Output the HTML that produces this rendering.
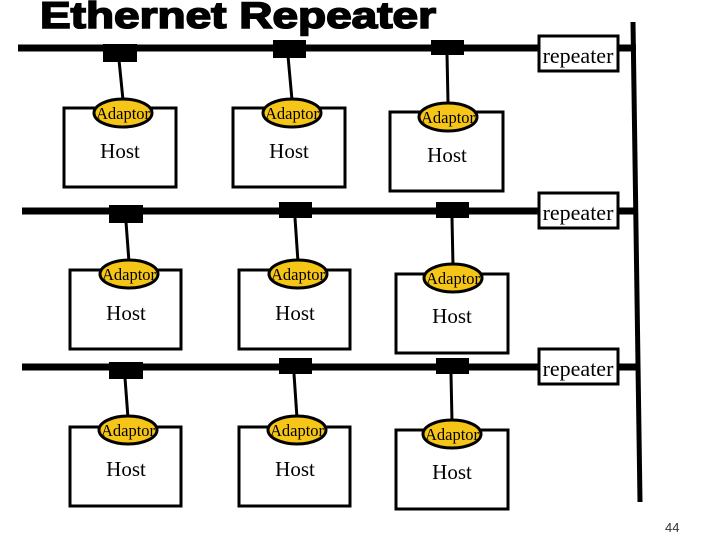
<!DOCTYPE html>
<html><head><meta charset="utf-8"><style>
html,body{margin:0;padding:0;background:#fff;width:720px;height:540px;overflow:hidden}
svg{display:block}
.t{font-family:"Liberation Serif",serif}
</style></head><body>
<svg width="720" height="540" viewBox="0 0 720 540">
<text x="40" y="28" font-family="Liberation Sans, sans-serif" font-weight="bold" font-size="37" fill="#000" stroke="#000" stroke-width="1.6" textLength="396" lengthAdjust="spacingAndGlyphs">Ethernet Repeater</text>
<line x1="633" y1="22" x2="640" y2="502" stroke="#000" stroke-width="5"/>
<g stroke="#000" stroke-width="7"><line x1="18" y1="48" x2="636" y2="48"/><line x1="22" y1="211" x2="637" y2="211"/><line x1="22" y1="367" x2="638" y2="367"/></g>
<g fill="#fff" stroke="#000" stroke-width="3">
<rect x="539" y="36" width="79" height="35"/><rect x="539" y="193" width="79" height="35"/><rect x="539" y="349" width="79" height="35"/>
<rect x="64" y="108" width="112" height="79"/><rect x="233" y="108" width="112" height="79"/><rect x="390" y="112" width="113" height="79"/>
<rect x="70" y="270" width="111" height="79"/><rect x="239" y="270" width="111" height="79"/><rect x="396" y="274" width="112" height="79"/>
<rect x="70" y="427" width="111" height="79"/><rect x="239" y="427" width="111" height="79"/><rect x="396" y="430" width="112" height="79"/>
</g>
<g class="t" font-size="22" text-anchor="middle" fill="#000">
<text x="578" y="63">repeater</text><text x="578" y="220">repeater</text><text x="578" y="376">repeater</text>
</g>
<g class="t" font-size="21" text-anchor="middle" fill="#000">
<text x="120" y="158">Host</text><text x="289" y="158">Host</text><text x="447" y="162">Host</text>
<text x="126" y="320">Host</text><text x="295" y="320">Host</text><text x="452" y="323">Host</text>
<text x="126" y="476">Host</text><text x="295" y="476">Host</text><text x="452" y="479">Host</text>
</g>
<g fill="#000">
<rect x="103" y="44" width="34" height="18"/><rect x="273" y="40" width="33" height="18"/><rect x="431" y="40" width="33" height="15"/>
<rect x="109" y="205" width="34" height="18"/><rect x="279" y="202" width="33" height="16"/><rect x="436" y="202" width="33" height="16"/>
<rect x="109" y="362" width="34" height="17"/><rect x="279" y="358" width="33" height="16"/><rect x="436" y="358" width="33" height="16"/>
</g>
<g stroke="#000" stroke-width="3">
<line x1="119" y1="60" x2="123" y2="100"/><line x1="288" y1="56" x2="292" y2="100"/><line x1="447" y1="54" x2="448" y2="102"/>
<line x1="126" y1="222" x2="129" y2="262"/><line x1="295" y1="218" x2="298" y2="262"/><line x1="452" y1="218" x2="453" y2="266"/>
<line x1="125" y1="378" x2="128" y2="418"/><line x1="294" y1="374" x2="297" y2="418"/><line x1="451" y1="374" x2="452" y2="422"/>
</g>
<g fill="#f5c518" stroke="#000" stroke-width="3">
<ellipse cx="123" cy="113" rx="29" ry="14"/><ellipse cx="292" cy="113" rx="29" ry="14"/><ellipse cx="448" cy="117" rx="29" ry="14"/>
<ellipse cx="129" cy="274" rx="29" ry="14"/><ellipse cx="298" cy="274" rx="29" ry="14"/><ellipse cx="453" cy="278" rx="29" ry="14"/>
<ellipse cx="128" cy="430" rx="29" ry="14"/><ellipse cx="297" cy="430" rx="29" ry="14"/><ellipse cx="452" cy="434" rx="29" ry="14"/>
</g>
<g class="t" font-size="16.5" text-anchor="middle" fill="#000">
<text x="123" y="119">Adaptor</text><text x="292" y="119">Adaptor</text><text x="448" y="123">Adaptor</text>
<text x="129" y="280">Adaptor</text><text x="298" y="280">Adaptor</text><text x="453" y="284">Adaptor</text>
<text x="128" y="436">Adaptor</text><text x="297" y="436">Adaptor</text><text x="452" y="440">Adaptor</text>
</g>
<text x="665" y="532" font-family="Liberation Sans, sans-serif" font-size="13" fill="#333">44</text>
</svg>
</body></html>
